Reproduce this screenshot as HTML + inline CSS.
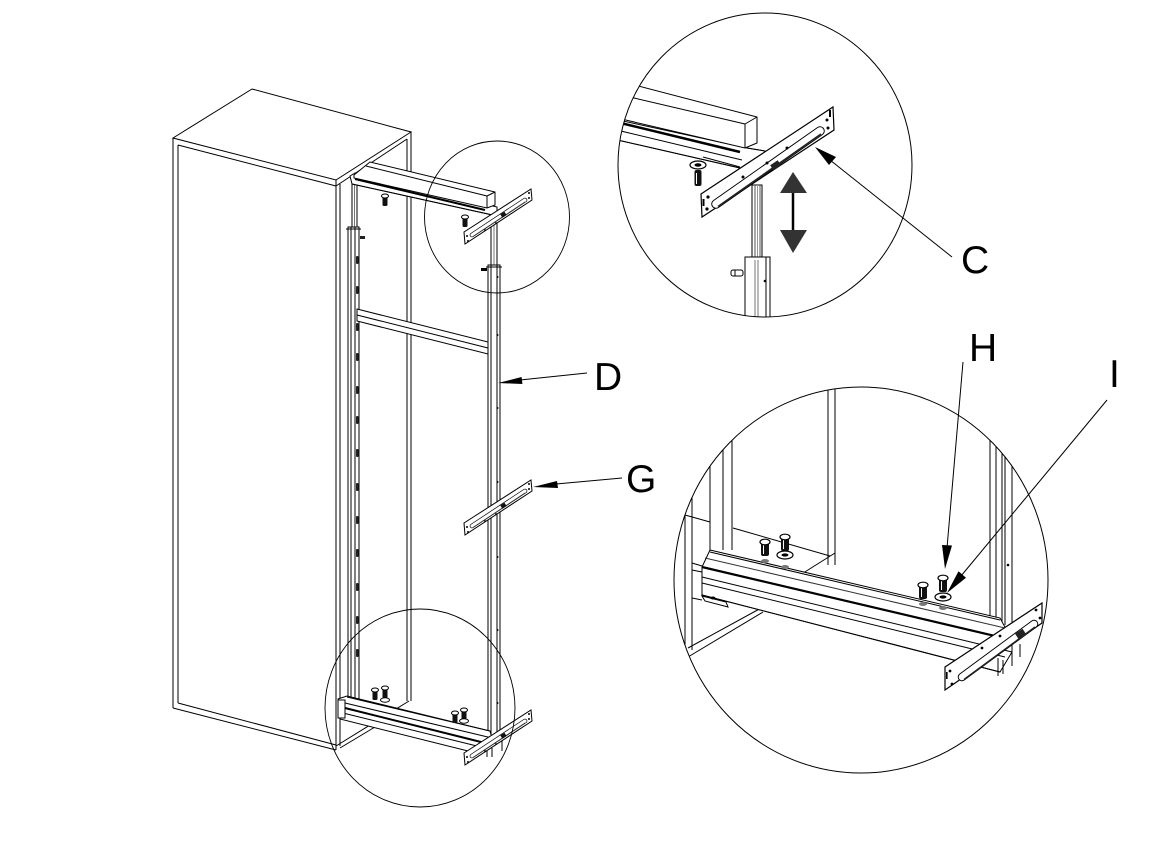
<!DOCTYPE html>
<html><head><meta charset="utf-8">
<style>
html,body{margin:0;padding:0;background:#fff;}
svg{display:block;}
text{font-family:"Liberation Sans",Arial,sans-serif;font-size:39px;fill:#000;}
</style></head><body>
<svg width="1152" height="846" viewBox="0 0 1152 846" xmlns="http://www.w3.org/2000/svg">
<defs>
<clipPath id="c3"><ellipse cx="765" cy="165" rx="147" ry="152"/></clipPath>
<clipPath id="c4"><ellipse cx="861" cy="580" rx="187" ry="193"/></clipPath>
<g id="br">
 <polygon points="464,232 531,189 532,200 465,244" fill="#fff" stroke="#000" stroke-width="1"/>
 <line x1="472" y1="235" x2="525" y2="200" stroke="#000" stroke-width="4.6" stroke-linecap="round"/>
 <line x1="472" y1="235" x2="525" y2="200" stroke="#fff" stroke-width="3.2" stroke-linecap="round"/>
 <line x1="473" y1="236.5" x2="525" y2="202" stroke="#333" stroke-width="0.8"/>
 <circle cx="467" cy="236" r="1" fill="#000"/>
 <circle cx="468" cy="241" r="1" fill="#000"/>
 <circle cx="529" cy="193" r="1" fill="#000"/>
 <circle cx="529" cy="198" r="1" fill="#000"/>
 <circle cx="485" cy="230" r="0.9" fill="#000"/>
 <circle cx="496" cy="223" r="0.9" fill="#000"/>
 <rect x="501" y="213" width="5" height="4" fill="#111" transform="rotate(-33 503 215)"/>
</g>
<g id="ss">
 <rect x="-2.5" y="0" width="5" height="10" rx="1.2" fill="#111"/>
 <ellipse cx="0" cy="0" rx="3.5" ry="2" fill="#fff" stroke="#000" stroke-width="1"/>
</g>
<g id="sb">
 <rect x="-4" y="0" width="8" height="14" rx="2" fill="#111"/>
 <line x1="-1.5" y1="3" x2="-1.5" y2="12" stroke="#fff" stroke-width="1"/>
 <ellipse cx="0" cy="0" rx="5" ry="2.8" fill="#fff" stroke="#000" stroke-width="1.2"/>
</g>
</defs>

<!-- ================= MAIN VIEW ================= -->
<g fill="none" stroke="#000" stroke-width="1">
 <polygon points="173,138 252,89 411,132 336,180" fill="#fff"/>
 <line x1="173" y1="138" x2="173" y2="708"/>
 <line x1="178" y1="145" x2="178" y2="703"/>
 <line x1="178" y1="145" x2="336" y2="186"/>
 <line x1="336" y1="186" x2="407" y2="139"/>
 <line x1="407" y1="139" x2="407" y2="701"/>
 <line x1="411" y1="132" x2="411" y2="701"/>
 <line x1="336" y1="180" x2="336" y2="750"/>
 <line x1="340" y1="184" x2="340" y2="746"/>
 <line x1="173" y1="708" x2="336" y2="750"/>
 <line x1="178" y1="703" x2="336" y2="745"/>
 <line x1="409" y1="701" x2="336" y2="746"/>
 <line x1="375" y1="727" x2="340" y2="748"/>

 <rect x="352" y="183" width="5" height="44" fill="#fff"/>
 <line x1="354.5" y1="183" x2="354.5" y2="227" stroke="#777"/>
 <rect x="348" y="227" width="11" height="473" fill="#fff"/>
 <line x1="351" y1="227" x2="351" y2="700"/>
 <line x1="355" y1="227" x2="355" y2="700"/>
 <line x1="346" y1="229" x2="361" y2="229"/>
</g>
<g fill="#222">
 <rect x="356" y="256" width="2.5" height="8" rx="1"/>
 <rect x="356" y="286" width="2.5" height="8" rx="1"/>
 <rect x="356" y="323" width="2.5" height="8" rx="1"/>
 <rect x="356" y="353" width="2.5" height="8" rx="1"/>
 <rect x="356" y="386" width="2.5" height="8" rx="1"/>
 <rect x="356" y="416" width="2.5" height="8" rx="1"/>
 <rect x="356" y="449" width="2.5" height="8" rx="1"/>
 <rect x="356" y="483" width="2.5" height="8" rx="1"/>
 <rect x="356" y="516" width="2.5" height="8" rx="1"/>
 <rect x="356" y="549" width="2.5" height="8" rx="1"/>
 <rect x="356" y="583" width="2.5" height="8" rx="1"/>
 <rect x="356" y="616" width="2.5" height="8" rx="1"/>
 <rect x="356" y="649" width="2.5" height="8" rx="1"/>
 <rect x="360" y="236" width="5" height="3"/>
</g>
<g fill="none" stroke="#000" stroke-width="1">
 <rect x="491" y="210" width="6" height="55" fill="#fff"/>
 <line x1="494" y1="210" x2="494" y2="265" stroke="#777"/>
 <rect x="488" y="265" width="12" height="472" fill="#fff"/>
 <line x1="491" y1="265" x2="491" y2="737"/>
 <line x1="497" y1="265" x2="497" y2="737"/>
 <line x1="486" y1="267" x2="502" y2="267"/>
</g>
<g fill="#000">
 <circle cx="497.5" cy="277" r="1"/><circle cx="497.5" cy="335" r="1"/>
 <circle cx="497.5" cy="408" r="1"/><circle cx="497.5" cy="482" r="1"/>
 <circle cx="497.5" cy="557" r="1"/><circle cx="497.5" cy="630" r="1"/>
 <circle cx="497.5" cy="703" r="1"/>
 <rect x="481" y="268" width="6" height="3"/>
</g>
<g fill="none" stroke="#000" stroke-width="1">
 <polygon points="357,309 488,342 488,354 357,321" fill="#fff"/>
 <line x1="357" y1="315" x2="488" y2="348"/>
 <polygon points="350,176 355,173 497,207 497,216 352,184" fill="#fff"/>
 <polygon points="354,175 370,162 495,192 495,205 487,208 354,178" fill="#fff"/>
 <line x1="366" y1="166" x2="487" y2="196"/>
 <line x1="487" y1="196" x2="495" y2="192"/>
 <line x1="487" y1="196" x2="487" y2="208"/>
 <line x1="355" y1="179" x2="485" y2="210" stroke-width="2"/>
 <line x1="352" y1="184" x2="497" y2="216"/>
 <polygon points="338,699 347,696 490,731 492,738 485,750 472,752 340,719" fill="#fff"/>
 <line x1="347" y1="697" x2="490" y2="731"/>
 <line x1="345" y1="703" x2="492" y2="738"/>
 <line x1="345" y1="708" x2="485" y2="743" stroke-width="2"/>
 <line x1="343" y1="713" x2="485" y2="748"/>
 <rect x="338" y="700" width="7" height="18" fill="#fff"/>
 <line x1="487" y1="748" x2="487" y2="757"/>
 <line x1="492" y1="748" x2="492" y2="757"/>
 <line x1="502" y1="740" x2="502" y2="751"/>
</g>
<use href="#br"/>
<use href="#br" transform="translate(0,291)"/>
<use href="#br" transform="translate(0,521)"/>
<use href="#ss" transform="translate(385,196)"/>
<use href="#ss" transform="translate(465,217)"/>
<use href="#ss" transform="translate(375,690)"/>
<use href="#ss" transform="translate(385,688)"/>
<ellipse cx="385" cy="700" rx="4.5" ry="2.2" fill="#fff" stroke="#000"/>
<use href="#ss" transform="translate(455,713)"/>
<use href="#ss" transform="translate(464,710)"/>
<ellipse cx="464" cy="721" rx="4.5" ry="2.2" fill="#fff" stroke="#000"/>

<g fill="none" stroke="#000" stroke-width="0.9">
 <ellipse cx="497" cy="217" rx="72.5" ry="76"/>
 <ellipse cx="420" cy="708" rx="95" ry="99"/>
</g>

<!-- ================= TOP-RIGHT DETAIL ================= -->
<g clip-path="url(#c3)" fill="none" stroke="#000" stroke-width="1">
 <polygon points="600,116 747,148 765,151 768,172 740,168 600,136" fill="#fff"/>
 <line x1="600" y1="126" x2="742" y2="160"/>
 <line x1="600" y1="136" x2="740" y2="168"/>
 <line x1="747" y1="148" x2="765" y2="151"/>
 <line x1="703" y1="157" x2="740" y2="167"/>
 <polygon points="600,76 757,117 757,143 745,148 600,114" fill="#fff"/>
 <line x1="600" y1="90" x2="745" y2="124"/>
 <line x1="745" y1="124" x2="757" y2="117"/>
 <line x1="745" y1="124" x2="745" y2="148"/>
 <line x1="600" y1="118" x2="740" y2="152" stroke-width="2.5"/>
 <rect x="752" y="185" width="10" height="75" fill="#fff"/>
 <line x1="755" y1="185" x2="755" y2="257" stroke="#555"/>
 <line x1="757.5" y1="185" x2="757.5" y2="257" stroke="#999"/>
 <line x1="760" y1="185" x2="760" y2="257" stroke="#555"/>
 <rect x="745" y="257" width="25" height="70" fill="#fff"/>
 <line x1="766" y1="257" x2="766" y2="327"/>
 <line x1="755" y1="260" x2="755" y2="327" stroke="#777"/>
 <line x1="758" y1="260" x2="758" y2="327" stroke="#777"/>
 <rect x="731" y="270" width="12" height="6" rx="2" fill="#fff"/>
 <line x1="735" y1="270" x2="735" y2="276"/>
 <polygon points="701,194 833,107 834,130 702,217" fill="#fff" stroke-width="1.2"/>
 <line x1="716" y1="204" x2="820" y2="131" stroke-width="9.5" stroke-linecap="round"/>
 <line x1="716" y1="204" x2="820" y2="131" stroke="#fff" stroke-width="7.6" stroke-linecap="round"/>
 <line x1="718" y1="206.5" x2="821" y2="134" stroke="#222" stroke-width="1.6"/>
</g>
<g fill="#000">
 <circle cx="708" cy="197" r="1.6"/><circle cx="707" cy="209" r="1.6"/>
 <rect x="702.5" y="199" width="2" height="7"/>
 <circle cx="743" cy="177" r="1.5"/><circle cx="767" cy="163" r="1.5"/>
 <circle cx="787" cy="148" r="1.5"/>
 <circle cx="827" cy="120" r="1.5"/><circle cx="828" cy="128" r="1.5"/>
 <rect x="829" y="110" width="2" height="7"/>
 <rect x="771" y="162" width="9" height="6" fill="#222" transform="rotate(-33 776 165)"/>
 <circle cx="765" cy="281" r="1.3"/>
 <line x1="793" y1="190" x2="793" y2="234" stroke="#000" stroke-width="2.5"/>
 <polygon points="793,172 780,193 807,193" fill="#333"/>
 <polygon points="780,230 807,230 793,253" fill="#333"/>
</g>
<rect x="694.5" y="170" width="7" height="16" rx="2" fill="#111"/>
<line x1="696.5" y1="173" x2="696.5" y2="184" stroke="#fff" stroke-width="1"/>
<ellipse cx="698" cy="165" rx="8" ry="4" fill="#fff" stroke="#000" stroke-width="1.2"/>
<ellipse cx="698" cy="165" rx="3.5" ry="1.7" fill="#000"/>
<ellipse cx="765" cy="165" rx="147" ry="152" fill="none" stroke="#000" stroke-width="1"/>

<!-- ================= BOTTOM-RIGHT DETAIL ================= -->
<g clip-path="url(#c4)" fill="none" stroke="#000" stroke-width="1">
 <line x1="685" y1="380" x2="685" y2="650"/>
 <line x1="692" y1="380" x2="692" y2="650"/>
 <line x1="685" y1="515" x2="710" y2="522"/>
 <line x1="710" y1="380" x2="710" y2="553"/>
 <line x1="723" y1="380" x2="723" y2="550"/>
 <line x1="732" y1="380" x2="732" y2="550"/>
 <line x1="828" y1="380" x2="828" y2="565"/>
 <line x1="835" y1="380" x2="835" y2="565"/>
 <line x1="733" y1="528" x2="830" y2="556"/>
 <line x1="835" y1="553" x2="800" y2="575"/>
 <line x1="763" y1="607" x2="688" y2="648"/>
 <line x1="763" y1="612" x2="688" y2="657"/>
 <line x1="990" y1="380" x2="990" y2="625"/>
 <line x1="996" y1="380" x2="996" y2="625"/>
 <line x1="1002" y1="380" x2="1002" y2="625"/>
 <line x1="1005" y1="380" x2="1005" y2="625"/>
 <line x1="1012" y1="380" x2="1012" y2="630"/>
 <line x1="692" y1="563" x2="702" y2="566"/>
 <line x1="692" y1="570" x2="702" y2="572"/>
 <line x1="692" y1="598" x2="702" y2="600"/>
 <polygon points="702,596 726,602 728,607 705,601" fill="#fff"/>
 <polygon points="710,550 1000,618 1012,640 1012,652 1000,672 702,595 702,567" fill="#fff"/>
 <line x1="710" y1="552" x2="1000" y2="620"/>
 <line x1="705" y1="558" x2="1005" y2="628" stroke="#333"/>
 <line x1="702" y1="567" x2="1012" y2="640" stroke-width="2.2"/>
 <line x1="702" y1="577" x2="1012" y2="652"/>
 <line x1="702" y1="583" x2="1005" y2="657"/>
 <line x1="702" y1="595" x2="1000" y2="672"/>
 <line x1="702" y1="567" x2="702" y2="595"/>
 <line x1="998" y1="658" x2="998" y2="676"/>
 <line x1="1003" y1="660" x2="1003" y2="674"/>
 <line x1="1020" y1="644" x2="1020" y2="657"/>
 <line x1="1012" y1="648" x2="1012" y2="666"/>
 <polygon points="945,667 1042,603 1042,623 945,690" fill="#fff" stroke-width="1.2"/>
 <line x1="962" y1="677" x2="1034" y2="624" stroke-width="8.5" stroke-linecap="round"/>
 <line x1="962" y1="677" x2="1034" y2="624" stroke="#fff" stroke-width="6.6" stroke-linecap="round"/>
 <line x1="964" y1="679.5" x2="1035" y2="627" stroke="#222" stroke-width="1.4"/>
</g>
<g fill="#000">
 <ellipse cx="713" cy="598" rx="2.5" ry="1.5"/>
 <circle cx="1008" cy="565" r="1.3"/>
 <circle cx="950" cy="671" r="1.4"/><circle cx="952" cy="684" r="1.4"/>
 <rect x="946" y="672" width="1.6" height="7"/>
 <circle cx="982" cy="648" r="1.4"/><circle cx="1000" cy="636" r="1.4"/>
 <circle cx="1036" cy="610" r="1.4"/><circle cx="1040" cy="618" r="1.4"/>
 <rect x="1016" y="631" width="9" height="7" fill="#222" transform="rotate(-33 1020 634)"/>
 <ellipse cx="765" cy="561" rx="4" ry="2" fill="#777"/>
 <ellipse cx="785" cy="567" rx="4" ry="2" fill="#777"/>
 <ellipse cx="923" cy="604" rx="4" ry="2" fill="#777"/>
 <ellipse cx="943" cy="608" rx="4" ry="2" fill="#777"/>
</g>
<use href="#sb" transform="translate(765,542)"/>
<use href="#sb" transform="translate(785,537)"/>
<ellipse cx="785" cy="555" rx="8" ry="4" fill="#fff" stroke="#000" stroke-width="1.2"/>
<ellipse cx="785" cy="555" rx="3.5" ry="1.6" fill="#000"/>
<use href="#sb" transform="translate(923,585)"/>
<use href="#sb" transform="translate(943,578)"/>
<ellipse cx="943" cy="597" rx="8" ry="4" fill="#fff" stroke="#000" stroke-width="1.2"/>
<ellipse cx="943" cy="597" rx="3.5" ry="1.6" fill="#000"/>
<ellipse cx="861" cy="580" rx="187" ry="193" fill="none" stroke="#000" stroke-width="1"/>

<!-- ================= LEADERS & LABELS ================= -->
<g stroke="#000" stroke-width="1">
 <line x1="587" y1="373" x2="520" y2="380"/>
 <line x1="622" y1="478" x2="556" y2="484"/>
 <line x1="952" y1="257" x2="830" y2="160"/>
 <line x1="963" y1="362" x2="947" y2="548"/>
 <line x1="1107" y1="400" x2="961" y2="576"/>
</g>
<g fill="#000">
 <polygon points="498,383 521.6,377 522.4,384"/>
 <polygon points="533,487 557,481 558,488"/>
 <polygon points="815,147 829,165 836,157"/>
 <polygon points="945,569 942,545 952,545.5"/>
 <polygon points="947,593 958.5,571.3 966,577.7"/>
</g>
<text x="594" y="390">D</text>
<text x="626" y="492">G</text>
<text x="961" y="273">C</text>
<text x="969" y="361">H</text>
<text x="1109" y="387">I</text>
</svg>
</body></html>
